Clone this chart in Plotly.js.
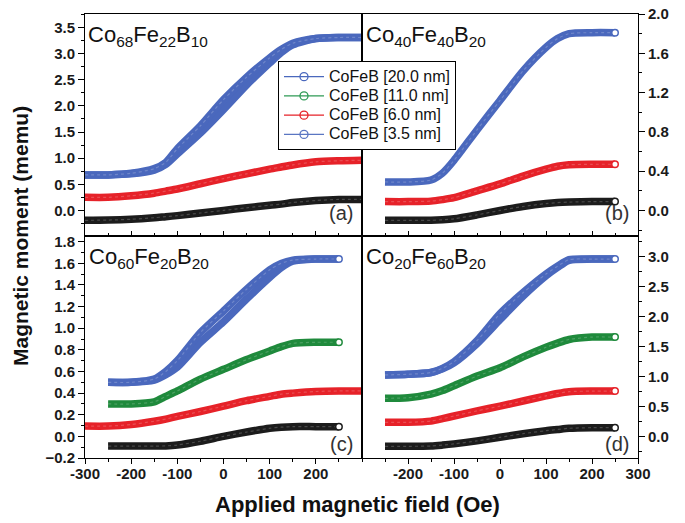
<!DOCTYPE html>
<html>
<head>
<meta charset="utf-8">
<script src="https://cdn.plot.ly/plotly-3.0.1.min.js"></script>
<style>html,body{margin:0;padding:0;background:#fff;}#chart{width:685px;height:523px;}</style>
</head>
<body>
<div id="chart"></div>
<script>
// ---- Data ----
// Field grids (Oe)
const fieldFull = [-300,-250,-200,-150,-125,-100,-50,0,50,100,125,150,200,250,300];
const fieldStd  = [-250,-200,-150,-125,-100,-50,0,50,100,125,150,200,250];

// (a) Co68Fe22B10
const a_black   = [-0.19,-0.185,-0.17,-0.14,-0.12,-0.10,-0.05,0.0,0.05,0.10,0.12,0.15,0.19,0.21,0.21];
const a_red     = [0.25,0.25,0.28,0.33,0.37,0.41,0.51,0.61,0.70,0.79,0.83,0.87,0.93,0.95,0.96];
const a_blueUp  = [0.68,0.68,0.70,0.77,0.88,1.08,1.48,1.93,2.40,2.82,3.02,3.17,3.29,3.31,3.31];
const a_blueDn  = [0.68,0.68,0.71,0.80,0.92,1.18,1.62,2.12,2.55,2.92,3.08,3.20,3.29,3.31,3.31];

// (b) Co40Fe40B20
const b_black   = [-0.10,-0.10,-0.10,-0.095,-0.085,-0.045,0.0,0.04,0.07,0.08,0.085,0.09,0.09];
const b_red     = [0.09,0.09,0.095,0.11,0.13,0.20,0.27,0.35,0.42,0.45,0.465,0.47,0.47];
const b_blue    = [0.29,0.29,0.31,0.38,0.51,0.82,1.12,1.42,1.66,1.75,1.80,1.81,1.81];

// (c) Co60Fe20B20
const c_black   = [-0.09,-0.09,-0.09,-0.088,-0.08,-0.045,0.0,0.04,0.075,0.085,0.09,0.09,0.09];
const c_red     = [0.095,0.095,0.11,0.14,0.16,0.185,0.23,0.28,0.33,0.37,0.39,0.40,0.415,0.42,0.42];
const c_green   = [0.30,0.30,0.32,0.37,0.42,0.53,0.62,0.71,0.79,0.83,0.86,0.87,0.87];
const c_blueUp  = [0.50,0.50,0.52,0.57,0.64,0.87,1.06,1.27,1.47,1.56,1.62,1.64,1.64];
const c_blueDn  = [0.50,0.50,0.53,0.60,0.70,0.96,1.16,1.36,1.54,1.60,1.63,1.64,1.64];

// (d) Co20Fe60B20
const d_black   = [-0.16,-0.16,-0.155,-0.14,-0.12,-0.07,-0.01,0.05,0.10,0.12,0.14,0.15,0.15];
const d_red     = [0.24,0.24,0.26,0.30,0.345,0.43,0.51,0.595,0.68,0.72,0.75,0.76,0.76];
const d_green   = [0.64,0.65,0.71,0.77,0.85,1.01,1.15,1.33,1.49,1.56,1.62,1.66,1.66];
const d_blueUp  = [1.03,1.04,1.07,1.13,1.23,1.55,1.95,2.34,2.68,2.82,2.94,2.96,2.96];
const d_blueDn  = [1.03,1.04,1.07,1.14,1.25,1.60,2.05,2.40,2.71,2.84,2.95,2.96,2.96];

const legendNames = ['CoFeB [20.0 nm]','CoFeB [11.0 nm]','CoFeB [6.0 nm]','CoFeB [3.5 nm]'];
const compLabels = ['Co<sub>68</sub>Fe<sub>22</sub>B<sub>10</sub>','Co<sub>40</sub>Fe<sub>40</sub>B<sub>20</sub>',
                    'Co<sub>60</sub>Fe<sub>20</sub>B<sub>20</sub>','Co<sub>20</sub>Fe<sub>60</sub>B<sub>20</sub>'];
const panelLabels = ['(a)','(b)','(c)','(d)'];

// ---- Styles ----
const BLUE = '#4a68bd', GREEN = '#1f8a3c', RED = '#e62229', BLACK = '#1c1c1c';
const LEG_COLORS = ['#4a68bd', '#2e9a55', '#e62229', '#5a76c2'];
const FONT = 'Arial, "Liberation Sans", sans-serif';

const traces = [];
function band(x, y, color, xa, ya, endMarker, texture) {
  traces.push({x: x, y: y, xaxis: xa, yaxis: ya, mode: 'lines', showlegend: false, hoverinfo: 'skip',
    line: {color: color, width: 7.5, shape: 'spline', smoothing: 0.7}});
  if (texture) {
    traces.push({x: x, y: y, xaxis: xa, yaxis: ya, mode: 'lines', showlegend: false, hoverinfo: 'skip',
      line: {color: 'rgba(255,255,255,0.2)', width: 1.2, dash: 'dot', shape: 'spline', smoothing: 0.7}});
  }
  if (endMarker) {
    traces.push({x: [x[x.length-1]], y: [y[y.length-1]], xaxis: xa, yaxis: ya, mode: 'markers',
      showlegend: false, hoverinfo: 'skip',
      marker: {symbol: 'circle', size: 6.5, color: 'white', line: {color: color, width: 1.5}}});
  }
}

// (a)
band(fieldFull, a_black, BLACK, 'x', 'y', false, true);
band(fieldFull, a_red, RED, 'x', 'y', false, true);
band(fieldFull, a_blueUp, BLUE, 'x', 'y', false, false);
band(fieldFull, a_blueDn, BLUE, 'x', 'y', false, true);
// (b)
band(fieldStd, b_black, BLACK, 'x2', 'y2', true, true);
band(fieldStd, b_red, RED, 'x2', 'y2', true, true);
band(fieldStd, b_blue, BLUE, 'x2', 'y2', true, true);
// (c)
band(fieldStd, c_black, BLACK, 'x3', 'y3', true, true);
band(fieldFull, c_red, RED, 'x3', 'y3', false, true);
band(fieldStd, c_green, GREEN, 'x3', 'y3', true, true);
band(fieldStd, c_blueUp, BLUE, 'x3', 'y3', false, false);
band(fieldStd, c_blueDn, BLUE, 'x3', 'y3', true, true);
// (d)
band(fieldStd, d_black, BLACK, 'x4', 'y4', true, true);
band(fieldStd, d_red, RED, 'x4', 'y4', true, true);
band(fieldStd, d_green, GREEN, 'x4', 'y4', true, true);
band(fieldStd, d_blueUp, BLUE, 'x4', 'y4', false, false);
band(fieldStd, d_blueDn, BLUE, 'x4', 'y4', true, true);

// legend-only entries (names rendered at 16px, row spacing driven by legend.font.size)
legendNames.forEach(function(n, i) {
  traces.push({x: [null], y: [null], name: '<span style="font-size:16px">' + n + '</span>',
    mode: 'lines+markers', xaxis: 'x', yaxis: 'y',
    line: {color: LEG_COLORS[i], width: 1.3},
    marker: {symbol: 'circle-open', size: 8, color: LEG_COLORS[i], line: {width: 1.3}}});
});

// ---- Layout ----
const ML = 85, MR = 47, MT = 14, MB = 65, W = 685, H = 523;
const PW = W - ML - MR, PH = H - MT - MB;
const px = v => (v - ML) / PW;
const py = v => 1 - (v - MT) / PH;
const XSPLIT = px(362);

const tickFont = {family: FONT, size: 15, color: '#1a1a1a', weight: 700};
function xax(dom, anchor, bottom, vals) {
  const ax = {domain: dom, anchor: anchor, range: [-300, 300], showline: true, mirror: true,
    linecolor: '#000', linewidth: 1, showgrid: false, zeroline: false, fixedrange: true,
    ticks: bottom ? 'outside' : 'inside', ticklen: 5, tickwidth: 1, tickcolor: '#000',
    tickfont: tickFont, showticklabels: bottom, ticklabelstandoff: bottom ? -3 : 0,
    minor: {ticks: bottom ? 'outside' : 'inside', ticklen: 3, tickcolor: '#000', dtick: 50, tick0: 0, showgrid: false}};
  if (vals) { ax.tickmode = 'array'; ax.tickvals = vals; ax.ticktext = vals.map(String); }
  else { ax.dtick = 100; ax.tick0 = 0; }
  return ax;
}
function yax(dom, anchor, range, dtick, side) {
  return {domain: dom, anchor: anchor, range: range, side: side, showline: true, mirror: true,
    linecolor: '#000', linewidth: 1, showgrid: false, zeroline: false, fixedrange: true,
    ticks: 'outside', ticklen: 6, tickwidth: 1, tickcolor: '#000', dtick: dtick, tick0: 0,
    tickformat: '.1f', tickfont: tickFont,
    minor: {ticks: 'outside', ticklen: 3, tickcolor: '#000', dtick: dtick / 2, tick0: 0, showgrid: false}};
}

const annFont = {family: FONT, size: 22, color: '#111'};
const lblFont = {family: FONT, size: 20, color: '#333'};
const annotations = [
  {text: compLabels[0], x: px(86), y: py(20), xanchor: 'left', yanchor: 'top'},
  {text: compLabels[1], x: px(364), y: py(20), xanchor: 'left', yanchor: 'top'},
  {text: compLabels[2], x: px(87), y: py(242), xanchor: 'left', yanchor: 'top'},
  {text: compLabels[3], x: px(364), y: py(242), xanchor: 'left', yanchor: 'top'}
].map(a => Object.assign(a, {xref: 'paper', yref: 'paper', showarrow: false, font: annFont}));
[[355, 213], [631, 213], [355, 444], [631, 444]].forEach(function(p, i) {
  annotations.push({text: panelLabels[i], x: px(p[0]), y: py(p[1]), xref: 'paper', yref: 'paper',
    xanchor: 'right', yanchor: 'middle', showarrow: false, font: lblFont});
});
annotations.push({text: '<b>Applied magnetic field (Oe)</b>', x: px(357), y: py(505), xref: 'paper', yref: 'paper',
  xanchor: 'center', yanchor: 'middle', showarrow: false, font: {family: FONT, size: 22, color: '#111'}});
annotations.push({text: '<b>Magnetic moment (memu)</b>', x: px(20), y: py(236), xref: 'paper', yref: 'paper',
  xanchor: 'center', yanchor: 'middle', textangle: -90, showarrow: false, font: {family: FONT, size: 21, color: '#111'}});

const layout = {
  width: W, height: H, margin: {l: ML, r: MR, t: MT, b: MB},
  paper_bgcolor: '#fff', plot_bgcolor: '#fff',
  font: {family: FONT},
  showlegend: true,
  legend: {x: px(278), y: py(61), xanchor: 'left', yanchor: 'top', bgcolor: '#fff',
    bordercolor: '#000', borderwidth: 1, font: {family: FONT, size: 12.5, color: '#111'},
    itemwidth: 40, tracegroupgap: 0, traceorder: 'normal'},
  xaxis:  xax([0, XSPLIT], 'y', false),
  xaxis2: xax([XSPLIT, 1], 'y2', false),
  xaxis3: xax([0, XSPLIT], 'y3', true, [-300, -200, -100, 0, 100, 200]),
  xaxis4: xax([XSPLIT, 1], 'y4', true, [-200, -100, 0, 100, 200, 300]),
  yaxis:  yax([0.5, 1], 'x', [-0.49, 3.76], 0.5, 'left'),
  yaxis2: yax([0.5, 1], 'x2', [-0.26, 2.0], 0.4, 'right'),
  yaxis3: yax([0, 0.5], 'x3', [-0.2, 1.853], 0.2, 'left'),
  yaxis4: yax([0, 0.5], 'x4', [-0.355, 3.345], 0.5, 'right'),
  annotations: annotations
};

Plotly.newPlot('chart', traces, layout, {staticPlot: true, displayModeBar: false});
</script>
</body>
</html>
